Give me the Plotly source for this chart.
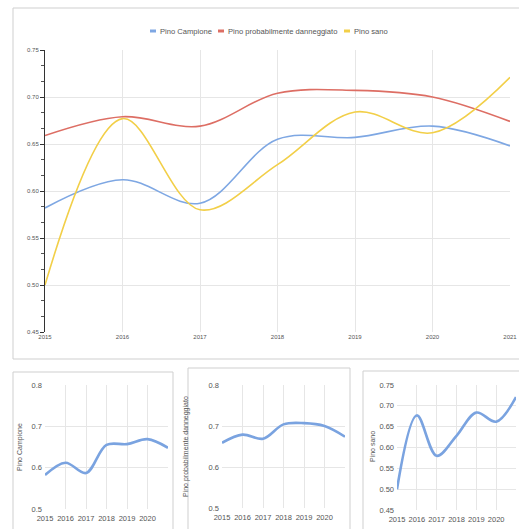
import plotly.graph_objects as go

W, H = 519, 529

years = [2015, 2016, 2017, 2018, 2019, 2020, 2021]
campione = [0.582, 0.612, 0.587, 0.655, 0.657, 0.669, 0.648]
danneggiato = [0.659, 0.679, 0.669, 0.704, 0.707, 0.700, 0.674]
sano = [0.500, 0.677, 0.580, 0.628, 0.684, 0.662, 0.721]

names = ["Pino Campione", "Pino probabilmente danneggiato", "Pino sano"]
colors = ["#7ea7e3", "#dd6e64", "#f2cf48"]
small_ticks_a = [0.5, 0.6, 0.7, 0.8]
small_ticks_b = [0.45, 0.50, 0.55, 0.60, 0.65, 0.70, 0.75]
small_xticks = [2015, 2016, 2017, 2018, 2019, 2020]


def px_x(p):
    return p / W


def px_y(p):
    return 1 - p / H


fig = go.Figure()

series = [campione, danneggiato, sano]
for name, vals, col in zip(names, series, colors):
    fig.add_trace(go.Scatter(x=years, y=vals, name=name, mode="lines", showlegend=False,
                             line=dict(color=col, width=1.6, shape="spline", smoothing=1),
                             xaxis="x", yaxis="y"))

small_blue = "#7aa3e0"
for i, vals in enumerate(series):
    fig.add_trace(go.Scatter(x=years, y=vals, name=names[i], mode="lines", showlegend=False,
                             line=dict(color=small_blue, width=2.6, shape="spline", smoothing=1),
                             xaxis="x" + str(i + 2), yaxis="y" + str(i + 2)))

tickfont = dict(family="Liberation Sans Narrow, Arial Narrow, Liberation Sans, sans-serif", size=7.5, color="#555")
grid = "#e6e6e6"

layout = dict(
    width=W, height=H, margin=dict(l=0, r=0, t=0, b=0, autoexpand=False),
    paper_bgcolor="white", plot_bgcolor="white", showlegend=False,
    font=dict(family="Liberation Sans, Arial, sans-serif", color="#444"),
    xaxis=dict(domain=[px_x(45), px_x(510)], range=[2015, 2021], tickvals=years,
               showgrid=True, gridcolor=grid, zeroline=False, tickfont=dict(size=6, color="#555"),
               showline=False, ticks="", automargin=False),
    yaxis=dict(domain=[px_y(332), px_y(50)], range=[0.45, 0.75], dtick=0.05, tickformat=".2f",
               showgrid=True, gridcolor=grid, zeroline=False, tickfont=dict(size=6, color="#555"),
               showline=True, linecolor="#333", linewidth=1, ticks="outside", ticklen=4,
               tickcolor="#333", automargin=False,
               minor=dict(dtick=0.05 / 3, ticks="outside", ticklen=3, tickcolor="#555", showgrid=False)),
)

small_specs = [
    (45, 168, 385, 509, [0.5, 0.8], small_ticks_a, ".1f", names[0], 20),
    (222, 345, 385, 508, [0.5, 0.8], small_ticks_a, ".1f", names[1], 186),
    (397, 516, 385, 510, [0.45, 0.75], small_ticks_b, ".2f", names[2], 372),
]
for i, (x0, x1, y0, y1, yr, yt, fmt, title, tx) in enumerate(small_specs):
    n = str(i + 2)
    layout["xaxis" + n] = dict(domain=[px_x(x0), px_x(x1)], range=[2015, 2021], tickvals=small_xticks,
                               anchor="y" + n, showgrid=True, gridcolor=grid, zeroline=False,
                               tickfont=tickfont, ticks="", showline=False, automargin=False,
                               ticklabelstandoff=3)
    layout["yaxis" + n] = dict(domain=[px_y(y1), px_y(y0)], range=yr, tickvals=yt, tickformat=fmt,
                               anchor="x" + n, showgrid=True, gridcolor=grid, zeroline=False,
                               tickfont=tickfont, ticks="", showline=False, automargin=False,
                               ticklabelstandoff=2)

fig.update_layout(**layout)

for i, (x0, x1, y0, y1, yr, yt, fmt, title, tx) in enumerate(small_specs):
    fig.add_annotation(x=px_x(tx), y=px_y(447), xref="paper", yref="paper", text=title,
                       textangle=-90, showarrow=False, xanchor="center", yanchor="middle",
                       font=dict(size=7, color="#555"))

# custom legend: short dash + label
legend_items = [(150, names[0], colors[0]), (218, names[1], colors[1]), (344, names[2], colors[2])]
for lx, name, col in legend_items:
    fig.add_shape(type="line", xref="paper", yref="paper",
                  x0=px_x(lx), x1=px_x(lx + 6), y0=px_y(31), y1=px_y(31),
                  line=dict(color=col, width=3))
    fig.add_annotation(x=px_x(lx + 8), y=px_y(31), xref="paper", yref="paper", text=name,
                       showarrow=False, xanchor="left", yanchor="middle",
                       font=dict(size=7.6, color="#555"))

border = dict(color="#cfcfcf", width=1)
boxes = [
    (13, 540, 8, 359),
    (13, 173, 372, 540),
    (188, 350, 368, 540),
    (363, 540, 371, 540),
]
for bx0, bx1, by0, by1 in boxes:
    fig.add_shape(type="rect", xref="paper", yref="paper",
                  x0=px_x(bx0), x1=px_x(bx1), y0=px_y(by1), y1=px_y(by0),
                  line=border, fillcolor="rgba(0,0,0,0)", layer="below")

fig.write_html("out.html",
               config={"displayModeBar": False},
               post_script="document.body.style.margin='0';"
                           "document.documentElement.style.overflow='hidden';")
